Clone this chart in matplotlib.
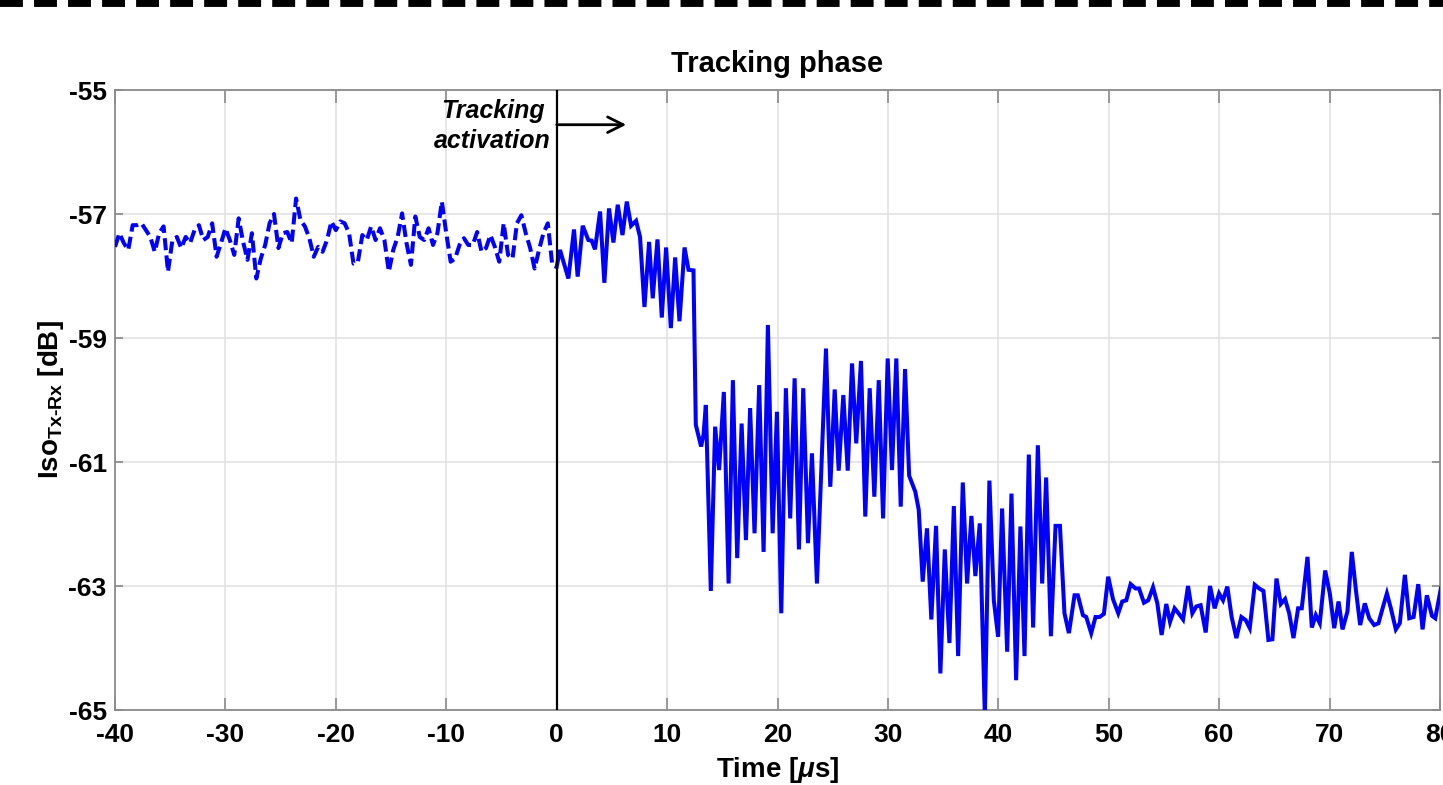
import numpy as np
import matplotlib
matplotlib.use("Agg")
import matplotlib.pyplot as plt
from matplotlib.lines import Line2D
from matplotlib import font_manager

# ---------------- data ----------------
t_pre = np.linspace(-40.0, 0.0, 101)
iso_pre = [
    -57.53, -57.31, -57.47, -57.58, -57.18, -57.18, -57.15, -57.26, -57.37, -57.61,
    -57.31, -57.20, -57.93, -57.42, -57.37, -57.55, -57.37, -57.47, -57.26, -57.18,
    -57.42, -57.37, -57.15, -57.69, -57.47, -57.23, -57.42, -57.66, -57.07, -57.45,
    -57.74, -57.31, -58.04, -57.72, -57.50, -57.15, -57.00, -57.55, -57.31, -57.29,
    -57.47, -56.75, -57.10, -57.20, -57.39, -57.69, -57.53, -57.61, -57.42, -57.12,
    -57.26, -57.12, -57.15, -57.31, -57.80, -57.77, -57.34, -57.42, -57.20, -57.42,
    -57.23, -57.42, -57.93, -57.58, -57.37, -56.99, -57.47, -57.82, -57.04, -57.37,
    -57.42, -57.23, -57.50, -57.31, -56.80, -57.31, -57.77, -57.72, -57.50, -57.39,
    -57.50, -57.50, -57.29, -57.61, -57.55, -57.34, -57.53, -57.77, -57.15, -57.66,
    -57.72, -57.15, -57.02, -57.31, -57.55, -57.88, -57.58, -57.31, -57.15, -57.82,
    -57.85,
]

t_track = [
    0.00, 0.30, 1.06, 1.57, 1.90, 2.36, 2.87, 3.17, 3.47, 3.93,
    4.32, 4.74, 5.14, 5.53, 5.96, 6.35, 6.74, 7.19, 7.55, 7.95,
    8.37, 8.70, 9.13, 9.52, 9.91, 10.34, 10.73, 11.12, 11.58, 11.94,
    12.39, 12.60, 13.08, 13.30, 13.51, 13.96, 14.35, 14.71, 15.14, 15.57,
    15.96, 16.35, 16.75, 17.14, 17.52, 17.92, 18.34, 18.74, 19.13, 19.56,
    19.95, 20.34, 20.76, 21.15, 21.55, 21.94, 22.33, 22.76, 23.12, 23.57,
    24.39, 24.78, 25.18, 25.54, 25.96, 26.36, 26.75, 27.13, 27.56, 27.95,
    28.35, 28.77, 29.17, 29.56, 29.98, 30.37, 30.76, 31.16, 31.55, 31.92,
    32.48, 32.79, 33.15, 33.54, 33.93, 34.36, 34.75, 35.15, 35.57, 35.97,
    36.36, 36.78, 37.17, 37.56, 37.92, 38.32, 38.78, 39.19, 39.59, 39.98,
    40.34, 40.80, 41.19, 41.61, 42.00, 42.37, 42.76, 43.15, 43.58, 43.97,
    44.33, 44.76, 45.18, 45.58, 45.99, 46.39, 46.90, 47.20, 47.66, 47.96,
    48.41, 48.80, 49.17, 49.56, 49.95, 50.38, 50.86, 51.22, 51.59, 51.98,
    52.43, 52.74, 53.19, 53.58, 54.01, 54.40, 54.79, 55.21, 55.55, 55.96,
    56.36, 56.73, 57.18, 57.57, 57.93, 58.32, 58.78, 59.17, 59.59, 59.99,
    60.35, 60.74, 61.13, 61.56, 62.01, 62.40, 62.77, 63.22, 63.62, 64.01,
    64.46, 64.82, 65.19, 65.58, 65.97, 66.34, 66.73, 67.15, 67.48, 68.00,
    68.39, 68.75, 69.11, 69.60, 70.02, 70.42, 70.81, 71.17, 71.62, 72.01,
    72.38, 72.77, 73.19, 73.59, 74.04, 74.43, 74.80, 75.19, 75.55, 76.00,
    76.36, 76.82, 77.22, 77.61, 78.03, 78.42, 78.81, 79.27, 79.57, 80.08,
]
iso_track = [
    -57.85, -57.58, -58.04, -57.25, -58.01, -57.19, -57.42, -57.43, -57.57, -56.96,
    -58.11, -56.91, -57.46, -56.85, -57.34, -56.80, -57.19, -57.11, -57.37, -58.50,
    -57.45, -58.36, -57.41, -58.67, -57.54, -58.84, -57.70, -58.73, -57.54, -57.90,
    -57.91, -60.40, -60.75, -60.56, -60.08, -63.08, -60.43, -61.13, -59.87, -62.96,
    -59.68, -62.55, -60.38, -62.26, -60.13, -62.15, -59.76, -62.45, -58.79, -62.15,
    -60.19, -63.44, -59.81, -61.91, -59.65, -62.41, -59.81, -62.31, -60.86, -62.96,
    -59.17, -61.40, -59.83, -61.14, -59.92, -61.14, -59.41, -60.70, -59.37, -61.88,
    -59.81, -61.56, -59.68, -61.91, -59.33, -61.13, -59.33, -61.72, -59.50, -61.22,
    -61.48, -61.77, -62.93, -62.07, -63.54, -62.03, -64.41, -62.41, -63.92, -61.71,
    -64.13, -61.33, -62.96, -61.87, -62.84, -61.99, -65.10, -61.30, -63.23, -63.82,
    -61.75, -64.06, -61.51, -64.52, -62.04, -64.13, -60.88, -63.67, -60.73, -62.96,
    -61.25, -63.81, -62.03, -62.03, -63.44, -63.76, -63.15, -63.15, -63.47, -63.50,
    -63.76, -63.50, -63.50, -63.45, -62.85, -63.21, -63.44, -63.25, -63.23, -62.97,
    -63.04, -63.04, -63.27, -63.23, -63.02, -63.28, -63.79, -63.29, -63.58, -63.36,
    -63.45, -63.54, -63.00, -63.44, -63.33, -63.31, -63.75, -63.00, -63.36, -63.12,
    -63.23, -63.01, -63.50, -63.84, -63.50, -63.55, -63.68, -62.98, -63.04, -63.08,
    -63.87, -63.86, -62.88, -63.29, -63.21, -63.44, -63.84, -63.36, -63.36, -62.53,
    -63.67, -63.47, -63.60, -62.75, -63.12, -63.68, -63.25, -63.70, -63.41, -62.45,
    -63.06, -63.63, -63.28, -63.52, -63.63, -63.60, -63.36, -63.12, -63.36, -63.70,
    -63.60, -62.82, -63.52, -63.50, -62.97, -63.70, -63.15, -63.48, -63.52, -63.04,
]

x_ticks = [-40, -30, -20, -10, 0, 10, 20, 30, 40, 50, 60, 70, 80]
y_ticks = [-65, -63, -61, -59, -57, -55]

title_text = "Tracking phase"
xlabel_text = r"Time [$\mu$s]"
ylabel_text = r"Iso$_{\text{Tx-Rx}}$ [dB]"
annot_text = "Tracking\nactivation"

# ---------------- fonts ----------------
def pick_font(cands):
    for c in cands:
        try:
            font_manager.findfont(c, fallback_to_default=False)
            return c
        except Exception:
            continue
    return "DejaVu Sans"

fam = pick_font(["Liberation Sans", "Arial", "DejaVu Sans"])
plt.rcParams["font.family"] = [fam, "DejaVu Sans"]
plt.rcParams["font.weight"] = "bold"
plt.rcParams["mathtext.fontset"] = "custom"
plt.rcParams["mathtext.rm"] = fam + ":bold"
plt.rcParams["mathtext.it"] = fam + ":bold:italic"
plt.rcParams["mathtext.bf"] = fam + ":bold"

blue = "#0000FF"

fig = plt.figure(figsize=(14.43, 7.85), dpi=100)
ax = fig.add_axes([115 / 1443, 1 - 710 / 785, (1440 - 115) / 1443, (710 - 90) / 785])

ax.plot(t_pre, iso_pre, color=blue, lw=2.9, linestyle=(0, (3.0, 1.3)),
        dash_capstyle="butt", solid_joinstyle="miter", zorder=3)
ax.plot(t_track, iso_track, color=blue, lw=2.9, zorder=3,
        solid_joinstyle="miter")
ax.axvline(0, color="black", lw=1.6, zorder=4)

ax.set_xlim(-40, 80)
ax.set_ylim(-65, -55)
ax.set_xticks(x_ticks)
ax.set_yticks(y_ticks)
ax.set_xticklabels([str(v) for v in x_ticks])
ax.set_yticklabels([str(v) for v in y_ticks])
ax.grid(True, color="#e3e3e3", lw=1.2, zorder=0)
ax.set_axisbelow(True)

for s in ax.spines.values():
    s.set_color("#8a8a8a")
    s.set_linewidth(1.3)
ax.tick_params(axis="both", direction="in", color="#8a8a8a", width=1.2,
               labelsize=19, top=True, right=True, labelcolor="black")
ax.tick_params(axis="x", length=9, pad=9)
ax.tick_params(axis="y", length=6, pad=6)
for lab in ax.get_xticklabels() + ax.get_yticklabels():
    lab.set_fontweight("bold")

ax.set_title(title_text, fontsize=21, fontweight="bold", pad=13)
ax.set_xlabel(xlabel_text, fontsize=20, fontweight="bold", labelpad=6)
ax.set_ylabel(ylabel_text, fontsize=20, fontweight="bold", labelpad=2)

ax.text(-5.8, -55.58, annot_text, fontsize=18, fontweight="bold",
        fontstyle="italic", ha="center", va="center", multialignment="center",
        linespacing=1.3, zorder=5)
ax.annotate("", xy=(6.3, -55.56), xytext=(0.0, -55.56),
            arrowprops=dict(arrowstyle="->", lw=2.0, color="black",
                            mutation_scale=28, shrinkA=0, shrinkB=0), zorder=5)

# dashed frame line at the top edge of the picture
fig.add_artist(Line2D([0, 1], [1.0, 1.0], transform=fig.transFigure,
                      color="black", lw=10, linestyle=(0, (1.65, 0.8)),
                      dash_capstyle="butt", clip_on=False))

fig.savefig("out.png", dpi=100)
